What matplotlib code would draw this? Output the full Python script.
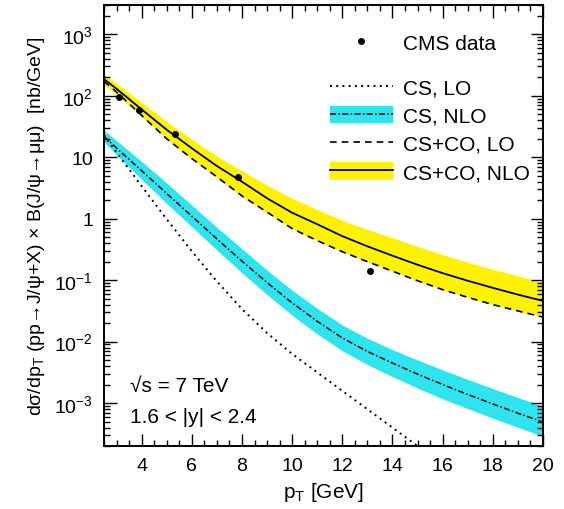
import numpy as np
import matplotlib
matplotlib.use("Agg")
import matplotlib.pyplot as plt
from matplotlib.lines import Line2D
from matplotlib.patches import Patch
from matplotlib.ticker import FixedLocator, FixedFormatter, MultipleLocator, LogLocator, NullFormatter

plt.rcParams['font.family'] = ['Liberation Sans', 'DejaVu Sans']
plt.rcParams['mathtext.fontset'] = 'custom'
plt.rcParams['mathtext.rm'] = 'Liberation Sans'
plt.rcParams['mathtext.it'] = 'Liberation Sans:italic'
plt.rcParams['mathtext.bf'] = 'Liberation Sans:bold'

# pT grid of the theory curves [GeV]
pt = [2.5, 3, 4, 5, 6, 7, 8, 9, 10, 11, 12, 13, 14, 15, 16, 17, 18, 19, 20]

# CS+CO, NLO (central line and band)
csco_nlo = [187, 130, 60, 28, 14, 7.2, 4.0, 2.15, 1.25, 0.813, 0.52, 0.355, 0.25, 0.178, 0.13,
            0.0977, 0.075, 0.0582, 0.046]
csco_nlo_hi = [225, 160, 78, 38, 19.6, 10.4, 6.0, 3.5, 2.15, 1.41, 0.94, 0.668, 0.49, 0.355, 0.26,
               0.195, 0.15, 0.1175, 0.092]
csco_nlo_lo = [150, 105, 46, 19.5, 9.3, 4.7, 2.3, 1.25, 0.68, 0.437, 0.29, 0.20, 0.14, 0.0977, 0.07,
               0.0525, 0.040, 0.0316, 0.025]

# CS+CO, LO
csco_lo = [172, 115, 48, 20, 9.5, 4.8, 2.35, 1.28, 0.69, 0.44, 0.29, 0.20, 0.14, 0.0977, 0.07,
           0.0525, 0.040, 0.0316, 0.025]

# CS, NLO (central line and band)
cs_nlo = [21.9, 14.1, 6.03, 2.57, 1.10, 0.468, 0.204, 0.0912, 0.0427, 0.0214, 0.01148, 0.00692,
          0.00447, 0.00295, 0.00200, 0.00138, 0.000966, 0.000684, 0.00049]
cs_nlo_hi = [27.5, 18.6, 8.51, 3.80, 1.66, 0.724, 0.324, 0.145, 0.0684, 0.0347, 0.0186, 0.01135,
             0.00741, 0.00501, 0.00347, 0.00243, 0.00172, 0.00123, 0.000891]
cs_nlo_lo = [17.8, 10.96, 4.37, 1.78, 0.741, 0.309, 0.132, 0.0582, 0.0269, 0.01334, 0.00708, 0.00422,
             0.00269, 0.00176, 0.00117, 0.000813, 0.000569, 0.000403, 0.000288]

# CS, LO
pt_cs_lo = [2.5, 3, 4, 5, 6, 7, 8, 9, 10, 12, 14, 15, 16]
cs_lo = [22.9, 12.0, 3.39, 0.98, 0.295, 0.0955, 0.0339, 0.0138, 0.0063, 0.00158, 0.000398, 0.0002, 0.0001]

# CMS data
cms_pt = [3.1, 3.9, 5.35, 7.85, 13.1]
cms_val = [94, 59, 23.5, 4.8, 0.14]

yticks = [1e-3, 1e-2, 1e-1, 1, 10, 1e2, 1e3]
ytick_labels = ['$10^{-3}$', '$10^{-2}$', '$10^{-1}$', '1', '10', '$10^{2}$', '$10^{3}$']

yellow = '#fff200'
cyan = '#2ee4ee'

fig = plt.figure(figsize=(5.64, 5.10), dpi=100)
ax = fig.add_axes([0.1844, 0.1235, 0.7784, 0.8647])

ax.fill_between(pt, csco_nlo_lo, csco_nlo_hi, color=yellow, lw=0)
ax.fill_between(pt, cs_nlo_lo, cs_nlo_hi, color=cyan, lw=0)

ax.plot(pt_cs_lo, cs_lo, color='black', lw=1.4, ls=(0, (1, 2.2)))
ax.plot(pt, cs_nlo, color='black', lw=1.1, ls=(0, (4, 1.5, 1, 1.5)))
ax.plot(pt, csco_lo, color='black', lw=1.2, ls=(0, (4, 3)))
ax.plot(pt, csco_nlo, color='black', lw=1.3)
ax.plot(cms_pt, cms_val, 'o', color='black', ms=4, ls='none')

ax.set_yscale('log')
ax.set_xlim(2.5, 20)
ax.set_ylim(2e-4, 3e3)

ax.xaxis.set_major_locator(MultipleLocator(2))
ax.xaxis.set_minor_locator(MultipleLocator(0.5))
ax.set_xticks([4, 6, 8, 10, 12, 14, 16, 18, 20])
ax.yaxis.set_major_locator(FixedLocator(yticks))
ax.yaxis.set_major_formatter(FixedFormatter(ytick_labels))
ax.yaxis.set_minor_locator(LogLocator(base=10, subs=np.arange(2, 10), numticks=20))
ax.yaxis.set_minor_formatter(NullFormatter())

ax.tick_params(which='both', direction='in', top=True, right=True, width=1.0)
ax.tick_params(which='major', length=9, labelsize=14)
ax.tick_params(which='minor', length=4.5)
ax.tick_params(axis='x', pad=8)
ax.tick_params(axis='y', pad=8)
for s in ax.spines.values():
    s.set_linewidth(1.4)

ax.set_xlabel('p$_\\mathrm{T}$ [GeV]', fontsize=15, labelpad=4)
ax.set_ylabel('d\u03c3/dp$_\\mathrm{T}$ (pp\u2192J/\u03c8+X) \u00d7 B(J/\u03c8\u2192\u03bc\u03bc)  [nb/GeV]',
              fontsize=14, labelpad=5)

ax.text(0.06, 0.137, '\u221as = 7 TeV', transform=ax.transAxes, fontsize=15, va='center')
ax.text(0.06, 0.066, '1.6 < |y| < 2.4', transform=ax.transAxes, fontsize=15, va='center')

leg_kw = dict(frameon=False, fontsize=15, handlelength=3.0, handletextpad=0.5,
              borderpad=0, borderaxespad=0, loc='upper left')
h_data = [Line2D([], [], marker='o', color='black', ms=4, ls='none')]
leg1 = ax.legend(h_data, ['CMS data'], bbox_to_anchor=(0.515, 0.935), **leg_kw)
ax.add_artist(leg1)

h_theory = [
    Line2D([], [], color='black', lw=1.4, ls=(0, (1, 2.2))),
    (Patch(facecolor=cyan, lw=0), Line2D([], [], color='black', lw=1.1, ls=(0, (4, 1.5, 1, 1.5)))),
    Line2D([], [], color='black', lw=1.2, ls=(0, (4, 3))),
    (Patch(facecolor=yellow, lw=0), Line2D([], [], color='black', lw=1.3)),
]
ax.legend(h_theory, ['CS, LO', 'CS, NLO', 'CS+CO, LO', 'CS+CO, NLO'],
          bbox_to_anchor=(0.515, 0.835), labelspacing=0.4, handleheight=0.9, **leg_kw)

fig.savefig('out.png', dpi=100)
